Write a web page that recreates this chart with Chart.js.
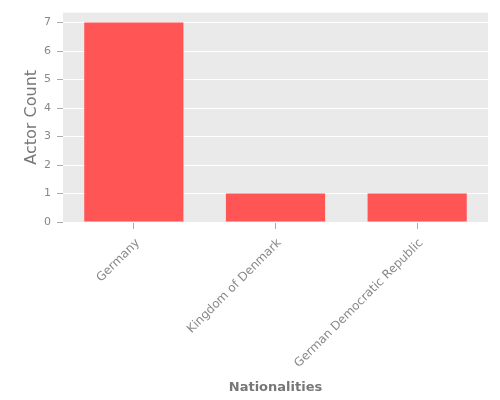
<!DOCTYPE html>
<html>
<head>
<meta charset="utf-8">
<script src="https://cdn.jsdelivr.net/npm/chart.js@4"></script>
<style>
html,body{margin:0;padding:0;background:#fff;}
#wrap{width:500px;height:400px;}
</style>
</head>
<body>
<div id="wrap"><canvas id="c" width="500" height="400"></canvas></div>
<script>
const categories = ["Germany", "Kingdom of Denmark", "German Democratic Republic"];
const actorCounts = [7, 1, 1];
const yTicks = [0, 1, 2, 3, 4, 5, 6, 7];

const bgPlugin = {
  id: 'bg',
  beforeDraw(chart) {
    const {ctx, chartArea: a} = chart;
    ctx.save();
    ctx.fillStyle = '#EAEAEA';
    ctx.fillRect(a.left, a.top, a.right - a.left, a.bottom - a.top);
    ctx.restore();
  }
};

new Chart(document.getElementById('c'), {
  type: 'bar',
  data: {
    labels: categories,
    datasets: [{
      data: actorCounts,
      backgroundColor: '#FF5555',
      borderWidth: 0,
      barPercentage: 0.7,
      categoryPercentage: 1.0
    }]
  },
  options: {
    responsive: false,
    animation: false,
    devicePixelRatio: 1,
    layout: {padding: {top: 10, right: 12, left: 0, bottom: 5}},
    plugins: {legend: {display: false}, tooltip: {enabled: false}},
    scales: {
      x: {
        grid: {display: true, drawOnChartArea: false, offset: false, tickLength: 7, tickColor: '#AAA'},
        border: {display: false},
        ticks: {
          minRotation: 45, maxRotation: 45,
          color: '#888',
          font: {family: 'DejaVu Sans', size: 12},
          padding: 7,
          labelOffset: 4
        },
        title: {
          display: true, text: 'Nationalities', color: '#777',
          font: {family: 'DejaVu Sans', size: 13, weight: 'bold'},
          padding: {top: 2, bottom: 0}
        },
        afterFit(s) { s.height = 173; }
      },
      y: {
        min: 0, max: 7.35,
        afterBuildTicks(s) { s.ticks = yTicks.map(v => ({value: v})); },
        grid: {color: '#FFFFFF', lineWidth: 1, tickLength: 6, tickColor: '#AAA'},
        border: {display: false},
        ticks: {
          color: '#888',
          font: {family: 'DejaVu Sans', size: 11},
          padding: 6
        },
        title: {
          display: true, text: 'Actor Count', color: '#777',
          font: {family: 'DejaVu Sans', size: 16},
          padding: {top: 22, bottom: 0}
        },
        afterFit(s) { s.width = 63; }
      }
    }
  },
  plugins: [bgPlugin]
});
</script>
</body>
</html>
